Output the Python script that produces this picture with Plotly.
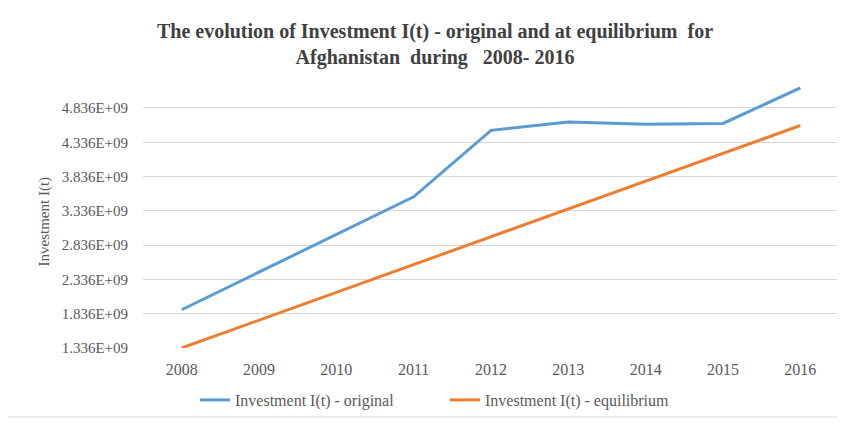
import plotly.graph_objects as go

years = ["2008", "2009", "2010", "2011", "2012", "2013", "2014", "2015", "2016"]
original = [1.894e9, 2.44e9, 2.99e9, 3.54e9, 4.51e9, 4.63e9, 4.60e9, 4.61e9, 5.13e9]
equilibrium = [1.336e9, 1.742e9, 2.147e9, 2.553e9, 2.958e9, 3.364e9, 3.769e9, 4.175e9, 4.58e9]
y_tickvals = [1.336e9, 1.836e9, 2.336e9, 2.836e9, 3.336e9, 3.836e9, 4.336e9, 4.836e9]
y_ticktext = ["1.336E+09", "1.836E+09", "2.336E+09", "2.836E+09", "3.336E+09", "3.836E+09", "4.336E+09", "4.836E+09"]

W, H = 845, 423
OFF = 8  # page body margin
L, R, T, B = 143 - OFF, 839 - OFF, 83 - OFF, 348 - OFF

def px(x):
    return (x - OFF - L) / (R - L)

def py(y):
    return (B - (y - OFF)) / (B - T)

font = "Liberation Serif, Times New Roman, serif"

fig = go.Figure()
fig.add_trace(go.Scatter(x=years, y=original, mode="lines", name="Investment I(t) - original",
                         line=dict(color="#5B9BD5", width=3)))
fig.add_trace(go.Scatter(x=years, y=equilibrium, mode="lines", name="Investment I(t) - equilibrium",
                         line=dict(color="#ED7D31", width=3)))

fig.update_layout(
    width=W, height=H,
    margin=dict(l=L, r=W - R, t=T, b=H - B),
    paper_bgcolor="white", plot_bgcolor="white",
    font=dict(family=font, color="#595959", size=16),
    title=dict(text="<b>The evolution of Investment I(t) - original and at equilibrium  for<br>Afghanistan  during   2008- 2016</b>",
               x=(435 - OFF) / W, xanchor="center", y=1 - (38 - OFF) / H, yanchor="middle",
               font=dict(family=font, size=20, color="#404040")),
    showlegend=True,
    legend=dict(orientation="h", x=px(445), xanchor="center", y=py(400), yanchor="middle",
                font=dict(family=font, size=16, color="#595959"), itemwidth=30,
                entrywidth=205, bgcolor="rgba(0,0,0,0)"),
    xaxis=dict(type="category", showgrid=False, zeroline=False, showline=False, ticks="",
               tickfont=dict(size=16), range=[-0.5, 8.5], ticklabelstandoff=10),
    yaxis=dict(range=[1.336e9, 5.2e9], tickvals=y_tickvals, ticktext=y_ticktext,
               showgrid=True, gridcolor="#D9D9D9", gridwidth=1, zeroline=False, showline=False,
               ticks="", tickfont=dict(size=15), ticklabelstandoff=14),
    annotations=[dict(text="Investment I(t)", textangle=-90, x=px(33), y=py(222),
                      xref="paper", yref="paper", showarrow=False,
                      font=dict(family=font, size=15, color="#595959"))],
    shapes=[dict(type="rect", xref="paper", yref="paper", x0=px(5), x1=px(870), y0=py(7), y1=py(417),
                 line=dict(color="#D9D9D9", width=1), layer="below")],
)

fig.write_html("out.html")
